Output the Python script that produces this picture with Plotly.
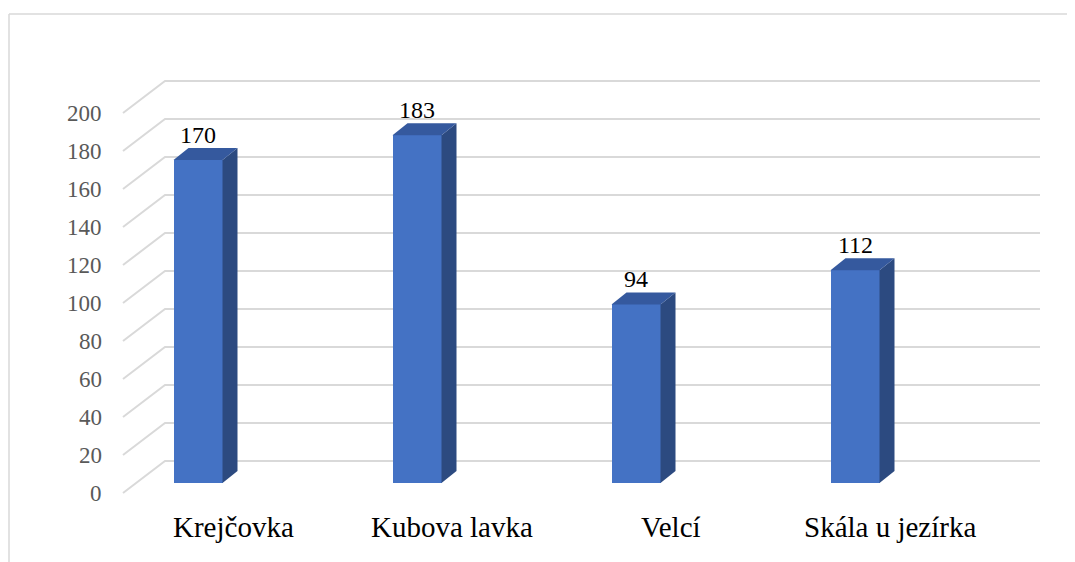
import plotly.graph_objects as go

# ---- data ----
categories = ["Krejčovka", "Kubova lavka", "Velcí", "Skála u jezírka"]
values = [170, 183, 94, 112]
tick_values = [0, 20, 40, 60, 80, 100, 120, 140, 160, 180, 200]

# ---- geometry (pixel-derived scales) ----
W, H = 1075, 562
PAGE_OFF = 8             # browser body margin compensation
PX_PER_CAT = 219.0       # pixels between category centres
PX_PER_UNIT = 1.9        # pixels per value unit
X0_PX = 198.0 - PAGE_OFF # pixel x of first bar centre
Y0_PX = 483.0 - PAGE_OFF # pixel y of value 0 at bar front

x_min = -X0_PX / PX_PER_CAT
x_max = x_min + W / PX_PER_CAT
y_max = Y0_PX / PX_PER_UNIT
y_min = y_max - H / PX_PER_UNIT

def dx(px):
    return px / PX_PER_CAT

def dy(px):
    return px / PX_PER_UNIT

bar_w = dx(49)
depth_x, depth_y = dx(15), dy(12)
wall_back_dy = dy(483 - 461)     # back wall gridline offset
wall_front_dy = dy(483 - 493)    # front end of diagonal
wall_left_x = dx(165 - 198)
wall_right_x = dx(1040 - 198)
wall_front_x = dx(123 - 198)

FONT = "Liberation Serif, Times New Roman, serif"
GRID = "#D9D9D9"
FRONT = "#4472C4"
SIDE = "#2C4A80"
TOP = "#35599E"

fig = go.Figure()

shapes = []
# gridlines (perspective: front diagonal + back wall), below the bars
for v in tick_values:
    shapes.append(dict(
        type="path", xref="x", yref="y", layer="below",
        path=(f"M {wall_front_x},{v + wall_front_dy} "
              f"L {wall_left_x},{v + wall_back_dy} "
              f"L {wall_right_x},{v + wall_back_dy}"),
        line=dict(color=GRID, width=2)))

xs = list(range(len(categories)))

# front faces
fig.add_trace(go.Bar(
    x=xs, y=values, width=bar_w, marker=dict(color=FRONT, line=dict(width=0)),
    hoverinfo="skip", showlegend=False))

# side and top faces
for x, v in zip(xs, values):
    r = x + bar_w / 2
    l = x - bar_w / 2
    fig.add_trace(go.Scatter(
        x=[r, r + depth_x, r + depth_x, r, r],
        y=[0, depth_y, v + depth_y, v, 0],
        mode="lines", fill="toself", fillcolor=SIDE, line=dict(width=0, color=SIDE),
        hoverinfo="skip", showlegend=False))
    fig.add_trace(go.Scatter(
        x=[l, r, r + depth_x, l + depth_x, l],
        y=[v, v, v + depth_y, v + depth_y, v],
        mode="lines", fill="toself", fillcolor=TOP, line=dict(width=0, color=TOP),
        hoverinfo="skip", showlegend=False))

annotations = []
# data labels
for x, v in zip(xs, values):
    annotations.append(dict(
        x=x, y=v + dy(25), text=str(v), showarrow=False,
        xanchor="center", yanchor="middle",
        font=dict(family=FONT, size=24, color="#000000")))
# category labels
for x, c in zip(xs, categories):
    annotations.append(dict(
        x=x + dx(35), y=dy(-44), text=c, showarrow=False,
        xanchor="center", yanchor="middle",
        font=dict(family=FONT, size=29, color="#000000")))
# value axis tick labels
for v in tick_values:
    annotations.append(dict(
        x=dx(104 - 198), y=v + wall_front_dy, text=str(v), showarrow=False,
        xanchor="right", yanchor="middle",
        font=dict(family=FONT, size=23, color="#595959")))

# chart-area border (top and left edges visible)
bx = (8 - PAGE_OFF) / W + 1 / W
by = 1 - (14 - PAGE_OFF) / H
shapes += [
    dict(type="line", xref="paper", yref="paper",
         x0=bx, x1=1.0, y0=by, y1=by, line=dict(color=GRID, width=1.5)),
    dict(type="line", xref="paper", yref="paper",
         x0=bx, x1=bx, y0=0, y1=by, line=dict(color=GRID, width=1.5)),
]

fig.update_layout(
    width=W, height=H,
    margin=dict(l=0, r=0, t=0, b=0),
    paper_bgcolor="white", plot_bgcolor="rgba(0,0,0,0)",
    xaxis=dict(range=[x_min, x_max], visible=False, fixedrange=True),
    yaxis=dict(range=[y_min, y_max], visible=False, fixedrange=True),
    annotations=annotations, shapes=shapes,
    showlegend=False, bargap=0,
)

fig.write_html("out.html")
